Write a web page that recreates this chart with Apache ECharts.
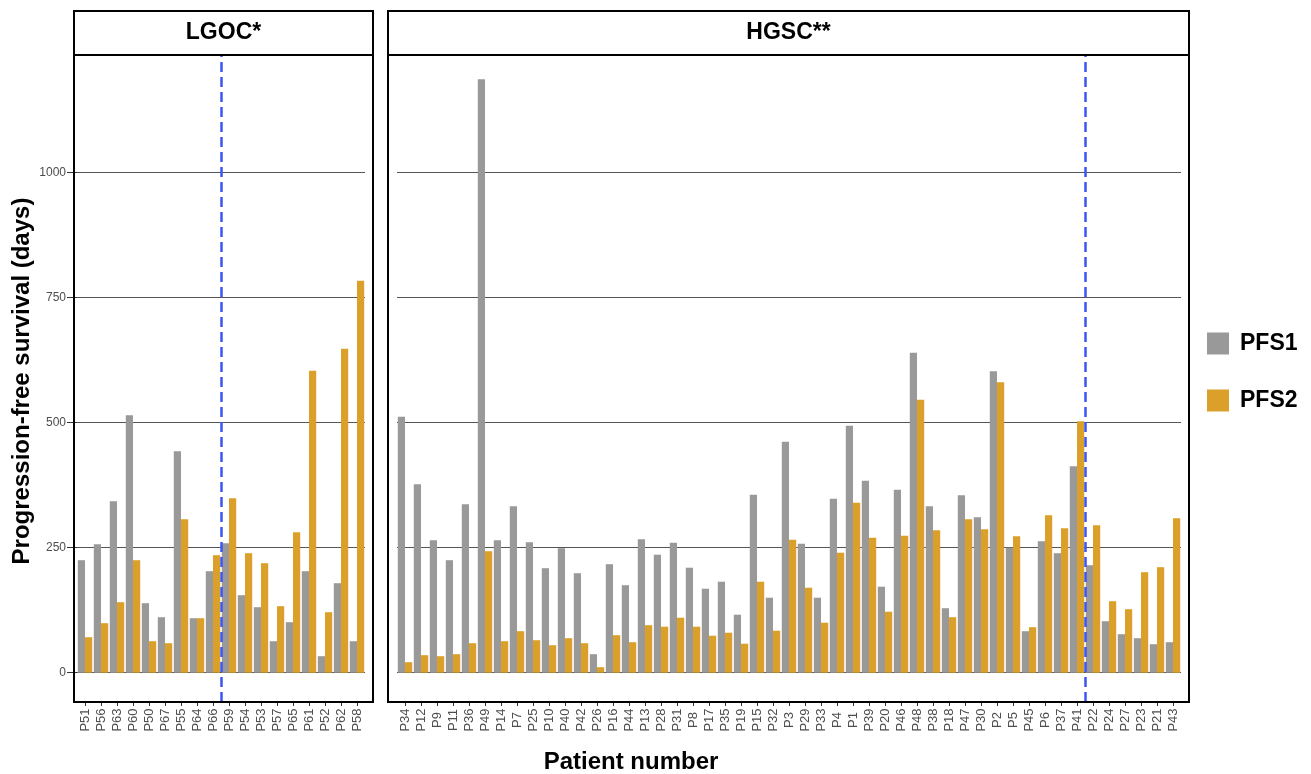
<!DOCTYPE html>
<html>
<head>
<meta charset="utf-8">
<script src="https://cdn.jsdelivr.net/npm/echarts@6/dist/echarts.min.js"></script>
<style>
html,body{margin:0;padding:0;background:#fff;}
#chart{width:1311px;height:774px;}
</style>
</head>
<body>
<div id="chart"></div>
<script>
// ---- data ----
const lgocPatients = ['P51','P56','P63','P60','P50','P67','P55','P64','P66','P59','P54','P53','P57','P65','P61','P52','P62','P58'];
const lgocPFS1 = [225,257,343,515,139,111,443,109,203,259,155,131,63,101,203,33,179,63];
const lgocPFS2 = [71,99,141,225,63,59,307,109,235,349,239,219,133,281,604,121,648,784];
const lgocSplitAfter = 'P66';

const hgscPatients = ['P34','P12','P9','P11','P36','P49','P14','P7','P25','P10','P40','P42','P26','P16','P44','P13','P28','P31','P8','P17','P35','P19','P15','P32','P3','P29','P33','P4','P1','P39','P20','P46','P48','P38','P18','P47','P30','P2','P5','P45','P6','P37','P41','P22','P24','P27','P23','P21','P43'];
const hgscPFS1 = [512,377,265,225,337,1187,265,333,261,209,249,199,37,217,175,267,236,260,210,168,182,116,356,150,462,258,150,348,494,384,172,366,640,333,129,355,311,603,250,83,263,239,413,215,103,77,69,57,61];
const hgscPFS2 = [21,35,33,37,59,243,63,83,65,55,69,59,11,75,61,95,92,110,92,74,80,58,182,84,266,170,100,240,340,270,122,274,546,285,111,307,287,581,273,91,315,289,503,295,143,127,201,211,309];
const hgscSplitAfter = 'P41';

const yTicks = [0,250,500,750,1000];
const panelTitles = ['LGOC*','HGSC**'];
const seriesNames = ['PFS1','PFS2'];

// ---- style ----
const FONT = 'Liberation Sans, Arial, Helvetica, sans-serif';
const C1 = '#999999', C2 = '#DAA02A';
const Y_MIN = -58.6, Y_MAX = 1235.4;

const chart = echarts.init(document.getElementById('chart'), null, {renderer:'canvas'});

function catAxis(gridIndex, data){
  return {
    type:'category', gridIndex, data, position:'bottom',
    axisLine:{show:false, onZero:false},
    axisTick:{show:true, alignWithLabel:true, length:4, lineStyle:{color:'#333', width:1}},
    axisLabel:{rotate:90, align:'center', verticalAlign:'middle', margin:18,
      fontFamily:FONT, fontSize:13, color:'#4D4D4D', interval:0},
    splitLine:{show:false}
  };
}
function valXAxis(gridIndex, n){
  return {type:'value', gridIndex, min:-0.5, max:n-0.5, show:false, splitLine:{show:false},
    axisLine:{onZero:false}};
}
function yAxis(gridIndex, showLabels){
  return {
    type:'value', gridIndex, min:Y_MIN, max:Y_MAX,
    axisLine:{show:false, onZero:false},
    axisTick:{show:showLabels, length:10, lineStyle:{color:'#333', width:1},
      customValues: yTicks},
    axisLabel:{show:showLabels, margin:11, fontFamily:FONT, fontSize:12, color:'#4D4D4D',
      customValues: yTicks, formatter: v => String(v)},
    splitLine:{show:true, lineStyle:{color:'#555555', width:1}},
  };
}
function bar(name, xi, yi, data, color){
  return {
    type:'bar', name, xAxisIndex:xi, yAxisIndex:yi, data,
    barWidth:'45%', barGap:'0%', itemStyle:{color},
    emphasis:{disabled:true}
  };
}
function split(xi, yi, idx){
  return {
    type:'line', xAxisIndex:xi, yAxisIndex:yi, data:[], silent:true,
    markLine:{symbol:'none', silent:true, label:{show:false},
      lineStyle:{color:'#3D55F5', width:2.5, type:[10,5]},
      data:[{xAxis: idx + 0.5}]}
  };
}

const panels = [[74,373],[388,1189]];
const graphics = [];
panels.forEach((p,i)=>{
  graphics.push({type:'rect', shape:{x:p[0], y:11, width:p[1]-p[0], height:691},
    style:{fill:null, stroke:'#000', lineWidth:2}, z:100});
  graphics.push({type:'line', shape:{x1:p[0], y1:55, x2:p[1], y2:55},
    style:{stroke:'#000', lineWidth:2}, z:100});
  graphics.push({type:'text', x:(p[0]+p[1])/2, y:33, z:100,
    style:{text:panelTitles[i], font:'bold 23px '+FONT, fill:'#000', align:'center', verticalAlign:'middle'}});
});
graphics.push({type:'text', x:22, y:381, rotation:Math.PI/2, z:100,
  style:{text:'Progression-free survival (days)', font:'bold 24px '+FONT, fill:'#000', align:'center', verticalAlign:'middle'}});
graphics.push({type:'text', x:631, y:762, z:100,
  style:{text:'Patient number', font:'bold 24px '+FONT, fill:'#000', align:'center', verticalAlign:'middle'}});

const option = {
  animation:false,
  backgroundColor:'#fff',
  grid:[
    {left:77, top:55, width:288, height:647},
    {left:397, top:55, width:784, height:647}
  ],
  xAxis:[
    catAxis(0, lgocPatients),
    catAxis(1, hgscPatients),
    valXAxis(0, lgocPatients.length),
    valXAxis(1, hgscPatients.length)
  ],
  yAxis:[ yAxis(0,true), yAxis(1,false) ],
  legend:{
    data:seriesNames, orient:'vertical', left:1202, top:327,
    itemWidth:22, itemHeight:22, itemGap:34, icon:'rect',
    textStyle:{fontFamily:FONT, fontSize:23, fontWeight:'bold', color:'#000', padding:[0,0,0,6]},
    selectedMode:false
  },
  series:[
    bar(seriesNames[0],0,0,lgocPFS1,C1),
    bar(seriesNames[1],0,0,lgocPFS2,C2),
    bar(seriesNames[0],1,1,hgscPFS1,C1),
    bar(seriesNames[1],1,1,hgscPFS2,C2),
    split(2,0,lgocPatients.indexOf(lgocSplitAfter)),
    split(3,1,hgscPatients.indexOf(hgscSplitAfter))
  ],
  graphic:graphics
};
chart.setOption(option);
</script>
</body>
</html>
